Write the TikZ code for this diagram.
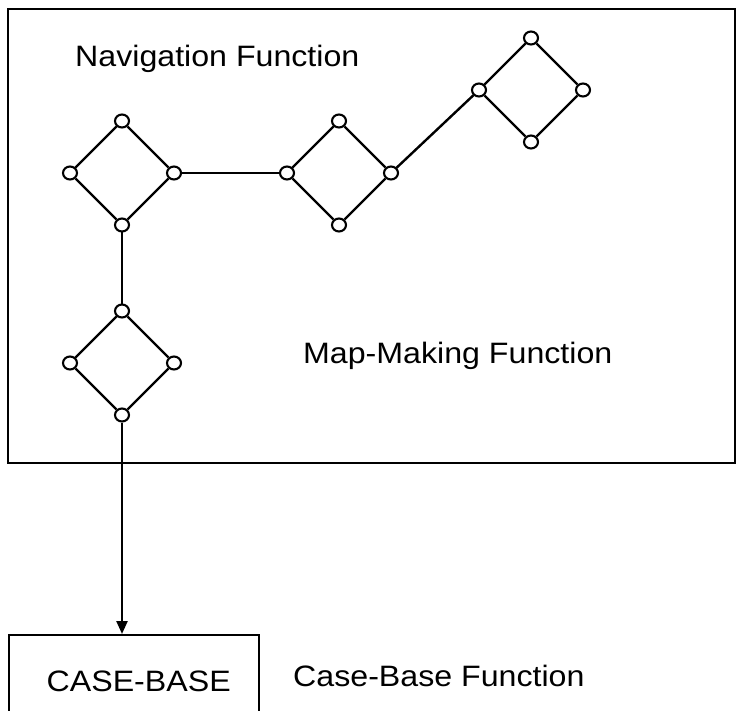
\documentclass[tikz,border=0pt]{standalone}
\usepackage{fontspec}
\setmainfont{Liberation Sans}[FakeStretch=1.09]
\usetikzlibrary{arrows.meta,shapes.geometric}
\newcommand\placediamond[3]{%
  \node[vtx] (#1t) at (#2,#3-52) {};
  \node[vtx] (#1b) at (#2,#3+52) {};
  \node[vtx] (#1l) at (#2-52,#3) {};
  \node[vtx] (#1r) at (#2+52,#3) {};
  \draw[edge] (#1t) -- (#1r) -- (#1b) -- (#1l) -- (#1t);
}
\begin{document}
\begin{tikzpicture}[x=1pt,y=-1pt,
  vtx/.style={ellipse,draw,line width=2.1pt,fill=white,inner sep=0pt,minimum width=14pt,minimum height=13pt},
  edge/.style={line width=2.4pt,shorten <=-0.3pt,shorten >=-0.3pt},
  lbl/.style={font=\fontsize{29.5}{31}\selectfont,inner sep=0pt,anchor=base west},
  frame/.style={draw,line width=2.6pt}]
\useasboundingbox (0,0) rectangle (736,711);
\clip (0,0) rectangle (736,711);
\draw[frame] (8,9) rectangle (735,463);
\placediamond{da}{122}{173}
\placediamond{db}{122}{363}
\placediamond{dc}{339}{173}
\placediamond{dd}{531}{90}
\draw[edge] (dar) -- (dcl);
\draw[edge] (dcr) -- (ddl);
\draw[edge] (dab) -- (dbt);
\node[draw,line width=2.4pt,minimum width=250pt,minimum height=92pt,anchor=north west,inner sep=0pt,font=\fontsize{29.5}{31}\selectfont] (cb) at (8,634) {\hspace*{9pt}CASE-BASE};
\draw[line width=2.4pt,-{Triangle[width=11pt,length=13pt]}] (dbb) -- (dbb |- cb.north);
\node[lbl] (nav) at (75,66.7) {Navigation Function};
\node[lbl] (map) at (303,363.3) {Map-Making Function};
\node[lbl] (cbf) at (293,686.7) {Case-Base Function};
\end{tikzpicture}
\end{document}
